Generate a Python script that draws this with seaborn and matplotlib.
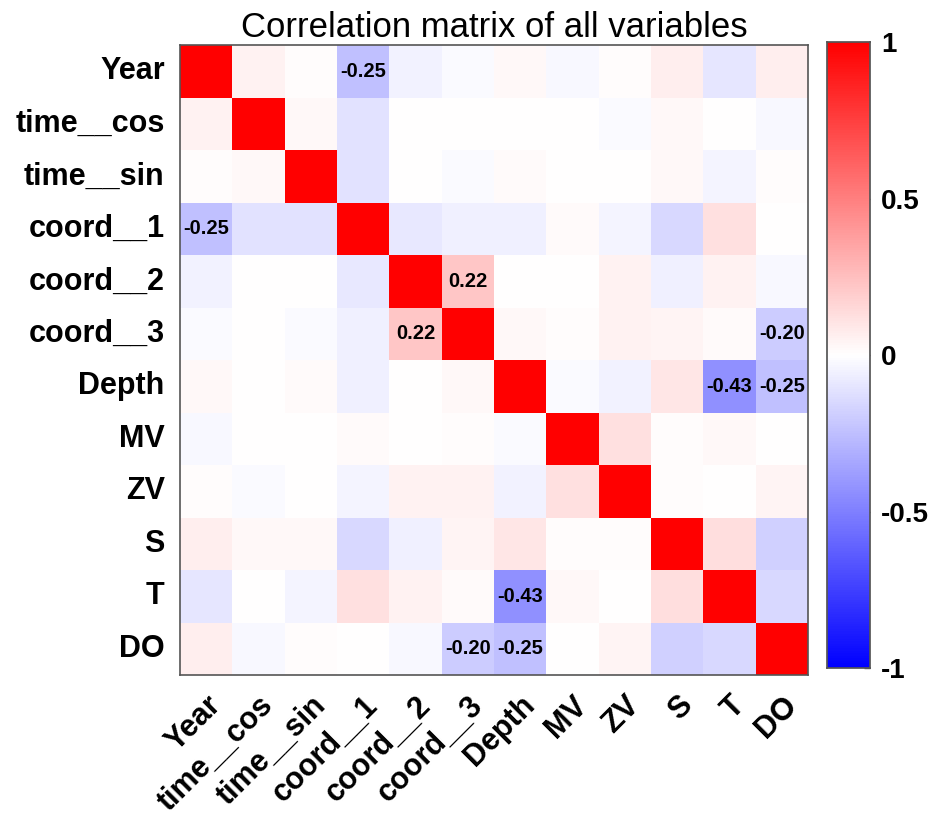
import numpy as np
import pandas as pd
import seaborn as sns
import matplotlib.pyplot as plt
from matplotlib.colors import LinearSegmentedColormap

# variable names
variables = ["Year", "time__cos", "time__sin", "coord__1", "coord__2", "coord__3",
             "Depth", "MV", "ZV", "S", "T", "DO"]

# correlation rows
row_year   = [1.00, 0.05, 0.01, -0.25, -0.05, -0.02, 0.03, -0.03, 0.01, 0.07, -0.10, 0.07]
row_tcos   = [0.05, 1.00, 0.03, -0.11, 0.00, 0.00, 0.00, 0.00, -0.02, 0.03, 0.00, -0.03]
row_tsin   = [0.01, 0.03, 1.00, -0.11, 0.00, -0.02, 0.02, 0.00, 0.00, 0.03, -0.04, 0.01]
row_c1     = [-0.25, -0.11, -0.11, 1.00, -0.09, -0.06, -0.06, 0.02, -0.04, -0.15, 0.12, 0.00]
row_c2     = [-0.05, 0.00, 0.00, -0.09, 1.00, 0.22, 0.00, 0.00, 0.05, -0.06, 0.05, -0.03]
row_c3     = [-0.02, 0.00, -0.02, -0.06, 0.22, 1.00, 0.03, 0.01, 0.05, 0.04, 0.02, -0.20]
row_depth  = [0.03, 0.00, 0.02, -0.06, 0.00, 0.03, 1.00, -0.02, -0.05, 0.10, -0.43, -0.25]
row_mv     = [-0.03, 0.00, 0.00, 0.02, 0.00, 0.01, -0.02, 1.00, 0.12, 0.01, 0.03, 0.00]
row_zv     = [0.01, -0.02, 0.00, -0.04, 0.05, 0.05, -0.05, 0.12, 1.00, 0.01, 0.00, 0.04]
row_s      = [0.07, 0.03, 0.03, -0.15, -0.06, 0.04, 0.10, 0.01, 0.01, 1.00, 0.13, -0.18]
row_t      = [-0.10, 0.00, -0.04, 0.12, 0.05, 0.02, -0.43, 0.03, 0.00, 0.13, 1.00, -0.15]
row_do     = [0.07, -0.03, 0.01, 0.00, -0.03, -0.20, -0.25, 0.00, 0.04, -0.18, -0.15, 1.00]

corr = pd.DataFrame([row_year, row_tcos, row_tsin, row_c1, row_c2, row_c3,
                     row_depth, row_mv, row_zv, row_s, row_t, row_do],
                    index=variables, columns=variables)

# only label the stronger off-diagonal correlations
labels = corr.map(lambda v: f"{v:.2f}" if (abs(v) >= 0.2 and v < 1) else "")

cmap = LinearSegmentedColormap.from_list("bwr_lin", [(0, 0, 1), (1, 1, 1), (1, 0, 0)])

sns.set_theme(style="white")
plt.rcParams["font.family"] = ["Liberation Sans", "DejaVu Sans"]
plt.rcParams["text.color"] = "black"

fig = plt.figure(figsize=(9.34, 8.18), dpi=100)
ax = fig.add_axes([0.1927, 0.1748, 0.6724, 0.770])
cax = fig.add_axes([0.8854, 0.1834, 0.046, 0.765])

sns.heatmap(corr, ax=ax, cbar_ax=cax, cmap=cmap, vmin=-1, vmax=1,
            annot=labels, fmt="", square=False,
            annot_kws={"fontsize": 14.5, "fontweight": "bold", "color": "black"})

ax.set_title("Correlation matrix of all variables", fontsize=25, pad=6, color="black")
ax.set_xticklabels(variables, rotation=45, ha="right", rotation_mode="anchor",
                   fontsize=22, fontweight="bold", color="black")
ax.set_yticklabels(variables, rotation=0, fontsize=22, fontweight="bold", color="black")
ax.tick_params(length=0, pad=11)
for sp in ax.spines.values():
    sp.set_visible(True)
    sp.set_color("#555555")
    sp.set_linewidth(1.2)

cax.set_yticks([-1, -0.5, 0, 0.5, 1])
cax.set_yticklabels(["-1", "-0.5", "0", "0.5", "1"], fontsize=20, fontweight="bold",
                    color="black")
cax.tick_params(length=4, width=1, color="#555555", direction="in", pad=8)
for sp in cax.spines.values():
    sp.set_visible(True)
    sp.set_color("#555555")

fig.savefig("out.png", dpi=100)
